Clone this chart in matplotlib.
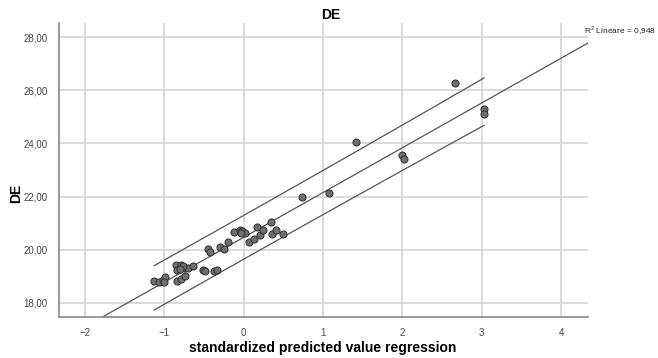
import numpy as np
import matplotlib.pyplot as plt
from matplotlib.ticker import FuncFormatter

plt.rcParams['font.family'] = ['Liberation Sans', 'DejaVu Sans']
plt.rcParams['mathtext.fontset'] = 'custom'
plt.rcParams['mathtext.rm'] = 'Liberation Sans'

# standardized predicted value vs DE
pred_std = [-1.13, -1.07, -1.02, -0.99, -1.00, -0.86, -0.79, -0.84, -0.74, -0.70,
            -0.64, -0.77, -0.84, -0.79, -0.74, -0.81, -0.51, -0.49, -0.37, -0.34,
            -0.45, -0.43, -0.30, -0.25, -0.20, -0.12, -0.05, -0.02, 0.01, -0.03,
            0.07, 0.13, 0.17, 0.21, 0.24, 0.34, 0.35, 0.40, 0.49, 0.74,
            1.07, 1.42, 2.00, 2.02, 2.66, 3.03, 3.03]
de_vals = [18.83, 18.79, 18.85, 18.97, 18.80, 19.41, 19.41, 19.25, 19.33, 19.33,
           19.37, 19.37, 18.83, 18.90, 19.00, 19.29, 19.25, 19.21, 19.21, 19.25,
           20.03, 19.90, 20.09, 20.04, 20.29, 20.66, 20.73, 20.70, 20.63, 20.62,
           20.31, 20.40, 20.84, 20.56, 20.73, 21.03, 20.59, 20.73, 20.59, 21.97,
           22.15, 24.05, 23.55, 23.40, 26.29, 25.31, 25.10]
x_ticks = [-2, -1, 0, 1, 2, 3, 4]
y_ticks = [18, 20, 22, 24, 26, 28]
r2_text = r"R$^\mathrm{2}$ Lineare = 0,948"

x = np.array(pred_std)
y = np.array(de_vals)
n = len(x)

# linear fit + 95% prediction interval
b1, b0 = np.polyfit(x, y, 1)
resid = y - (b0 + b1 * x)
s = np.sqrt(np.sum(resid ** 2) / (n - 2))
sxx = np.sum((x - x.mean()) ** 2)
t_val = 2.014

xlim = (-2.33, 4.34)
ylim = (17.47, 28.53)

fig = plt.figure(figsize=(6.58, 3.58), dpi=100)
ax = fig.add_axes([0.0897, 0.1145, 0.8039, 0.8213])

ax.grid(True, color='#d8d8d8', linewidth=1.3)
ax.set_axisbelow(True)

xx = np.linspace(xlim[0], xlim[1], 200)
ax.plot(xx, b0 + b1 * xx, color='#555555', linewidth=0.9)

xb = np.linspace(x.min(), x.max(), 100)
half = t_val * s * np.sqrt(1 + 1 / n + (xb - x.mean()) ** 2 / sxx)
ax.plot(xb, b0 + b1 * xb + half, color='#555555', linewidth=0.9)
ax.plot(xb, b0 + b1 * xb - half, color='#555555', linewidth=0.9)

ax.scatter(x, y, s=26, facecolor='#6f6f6f', edgecolor='#2e2e2e', linewidth=0.7, zorder=3)

ax.set_xlim(*xlim)
ax.set_ylim(*ylim)
ax.set_xticks(x_ticks)
ax.set_yticks(y_ticks)
ax.yaxis.set_major_formatter(FuncFormatter(lambda v, p: f"{v:.2f}".replace('.', ',')))
ax.tick_params(length=0, labelsize=7, labelcolor='#444444', pad=8)

for side in ['top', 'right']:
    ax.spines[side].set_visible(False)
for side in ['left', 'bottom']:
    ax.spines[side].set_color('#888888')
    ax.spines[side].set_linewidth(1.2)

fig.text(0.491, 0.028, "standardized predicted value regression", fontsize=10,
         fontweight='bold', ha='center', va='center')
fig.text(0.024, 0.46, "DE", fontsize=10, fontweight='bold', rotation=90,
         ha='center', va='center')
fig.text(0.502, 0.958, "DE", fontsize=10, fontweight='bold', ha='center', va='center')
fig.text(0.997, 0.915, r2_text, fontsize=6, ha='right', va='center', color='#222222')

fig.savefig("out.png", dpi=100)
